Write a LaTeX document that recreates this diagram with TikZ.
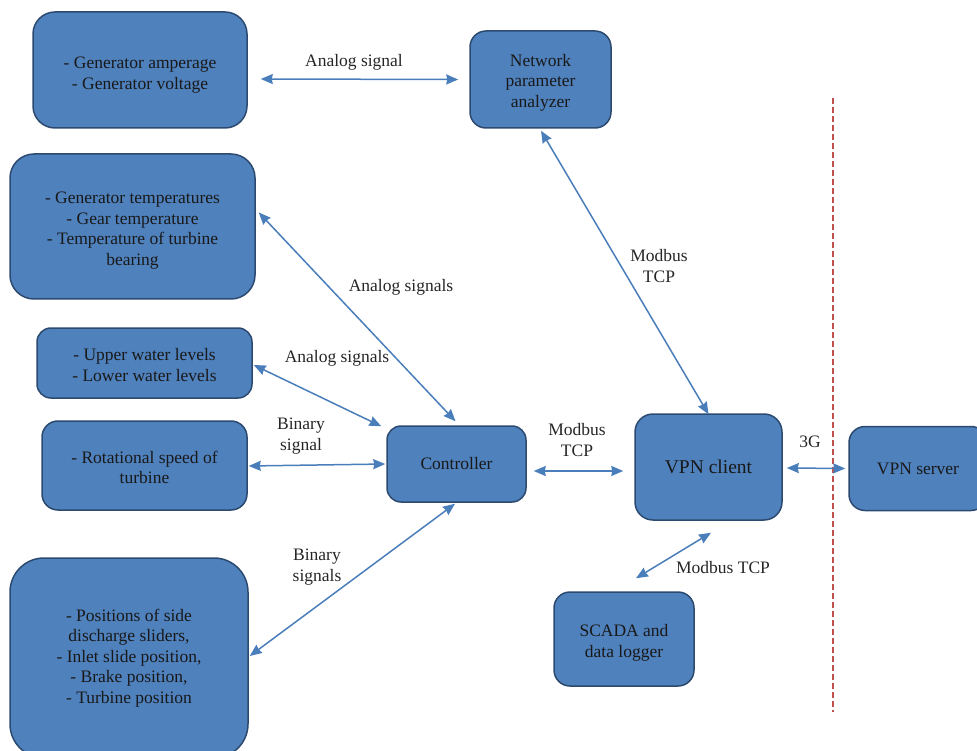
\documentclass[tikz,border=0pt]{standalone}
\usepackage{fontspec}
\setmainfont{Liberation Serif}
\usetikzlibrary{arrows.meta, calc}
\definecolor{boxblue}{HTML}{4F81BD}
\definecolor{boxedge}{HTML}{2C4A70}
\definecolor{linkblue}{HTML}{4A7EBB}
\definecolor{splitred}{HTML}{C0504D}
\newcommand\padtop[1]{\rule{0pt}{#1}}

\begin{document}
\begin{tikzpicture}[x=1pt, y=-1pt]
        \tikzset{box/.style={draw=boxedge, fill=boxblue, line width=1.5pt, rounded corners=16pt,
                align=center, inner sep=0pt, text=black!90, font={\fontsize{17.5}{20.5}\selectfont}},
            link/.style={draw=linkblue, line width=1.5pt,
                {Stealth[length=12pt,width=10pt,inset=1pt]}-{Stealth[length=12pt,width=10pt,inset=1pt]}},
            lbl/.style={align=center, inner sep=0pt, text=black!85, font={\fontsize{17.5}{20.5}\selectfont}}}

        \useasboundingbox (0,0) rectangle (977,751);
        \clip (0,0) rectangle (977,751);

        \node[box, minimum width=214pt, minimum height=116pt, rounded corners=22pt] (amps) at (140,70)
            {\padtop{22pt}- Generator amperage\\- Generator voltage};
        \node[box, minimum width=141pt, minimum height=97pt] (npa) at (540.5,79.5)
            {\padtop{18pt}Network\\parameter\\analyzer};
        \node[box, minimum width=245pt, minimum height=145pt, rounded corners=24pt] (temps) at (132.5,226.5)
            {\padtop{20pt}- Generator temperatures\\- Gear temperature\\- Temperature of turbine\\bearing};
        \node[box, minimum width=215pt, minimum height=70pt, rounded corners=14pt] (water) at (144.5,363)
            {\padtop{16pt}- Upper water levels\\- Lower water levels};
        \node[box, minimum width=205pt, minimum height=89pt] (speed) at (144.5,465.5)
            {\padtop{16pt}- Rotational speed of\\turbine};
        \node[box, minimum width=238pt, minimum height=200pt, rounded corners=34pt] (pos) at (129,658)
            {- Positions of side\\discharge sliders,\\- Inlet slide position,\\- Brake position,\\- Turbine position};
        \node[box, minimum width=139pt, minimum height=76pt, rounded corners=14pt] (ctrl) at (456.5,464) {Controller};
        \node[box, minimum width=147pt, minimum height=106pt, rounded corners=18pt,
            font={\fontsize{19.5}{22}\selectfont}] (vpnc) at (708.5,467) {VPN client};
        \node[box, minimum width=138pt, minimum height=84pt] (vpns) at (918,468.5) {VPN server};
        \node[box, minimum width=140pt, minimum height=94pt] (scada) at (624,639)
            {\padtop{20pt}SCADA and\\data logger};

        \draw[splitred, line width=1.2pt, dash pattern=on 6pt off 3pt] (833,98) -- (833,712);

        \draw[link] ([shift={(13,9)}]amps.east) -- ([xshift=-11]npa.west);
        \draw[link] ([shift={(3,-14)}]temps.east) -- ([shift={(-1,-4)}]ctrl.north);
        \draw[link] ([shift={(1,2)}]water.east) -- ([shift={(-5,1)}]ctrl.north west);
        \draw[link] ([shift={(1,0.5)}]speed.east) -- ([xshift=-1]ctrl.west);
        \draw[link] ([shift={(1,-2)}]pos.east) -- ([shift={(-1.5,1)}]ctrl.south);
        \draw[link] ([shift={(7,7)}]ctrl.east) -- ([shift={(-11,4)}]vpnc.west);
        \draw[link] ([shift={(0.5,2)}]npa.south) -- ([yshift=-1]vpnc.north);
        \draw[link] ([shift={(4,1)}]vpnc.east) -- ([xshift=-3]vpns.west);
        \draw[link] ([shift={(2.5,12)}]vpnc.south) -- ([shift={(12,-13)}]scada.north);

        \node[lbl] (analog1) at (354,62) {Analog signal};
        \node[lbl] (analog2) at (401,287) {Analog signals};
        \node[lbl] (analog3) at (337,358) {Analog signals};
        \node[lbl] (binary1) at (301,436) {Binary\\signal};
        \node[lbl] (binary2) at (317,567) {Binary\\signals};
        \node[lbl] (modbus1) at (577,440) {Modbus\\TCP};
        \node[lbl] (modbus2) at (659,266) {Modbus\\TCP};
        \node[lbl] (threeg) at (810,442) {3G};
        \node[lbl] (modbus3) at (723,568) {Modbus TCP};
    \end{tikzpicture}
\end{document}
